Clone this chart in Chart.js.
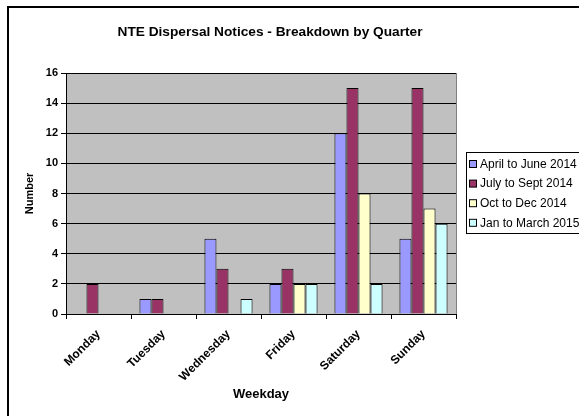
<!DOCTYPE html>
<html>
<head>
<meta charset="utf-8">
<script src="https://cdn.jsdelivr.net/npm/chart.js@4"></script>
<style>
  body { margin: 0; background: #fff; }
  canvas { display: block; }
</style>
</head>
<body>
<canvas id="myChart" width="579" height="416"></canvas>
<script>
// donnees du graphique
const days = ["Monday", "Tuesday", "Wednesday", "Friday", "Saturday", "Sunday"]
const quarters = ["April to June 2014", "July to Sept 2014", "Oct to Dec 2014", "Jan to March 2015"]
const aprJun = [0, 1, 5, 2, 12, 5]
const julSep = [2, 1, 3, 3, 15, 15]
const octDec = [0, 0, 0, 2, 8, 7]
const janMar = [0, 0, 1, 2, 2, 6]
const colors = ["#9999FF", "#993366", "#FFFFCC", "#CCFFFF"]
const yTicks = [0, 2, 4, 6, 8, 10, 12, 14, 16]

const font = "Arial, 'Liberation Sans', sans-serif"

// fond, cadre, titre et legende
const decor = {
  id: 'decor',
  beforeDraw: (chart) => {
    const ctx = chart.ctx
    const a = chart.chartArea
    ctx.save()
    ctx.fillStyle = '#fff'
    ctx.fillRect(0, 0, chart.width, chart.height)
    ctx.strokeStyle = '#000'
    ctx.lineWidth = 2
    ctx.strokeRect(8, 7, 700, 500)
    ctx.fillStyle = '#C0C0C0'
    ctx.fillRect(a.left, a.top, a.right - a.left, a.bottom - a.top)
    ctx.strokeStyle = '#808080'
    ctx.lineWidth = 1
    ctx.strokeRect(a.left + 0.5, a.top + 0.5, a.right - a.left, a.bottom - a.top)
    ctx.restore()
  },
  afterDraw: (chart) => {
    const ctx = chart.ctx
    ctx.save()
    ctx.fillStyle = '#000'
    ctx.font = 'bold 13.7px ' + font
    ctx.textAlign = 'center'
    ctx.textBaseline = 'middle'
    ctx.fillText("NTE Dispersal Notices - Breakdown by Quarter", 270, 32)
    // legende
    ctx.strokeStyle = '#000'
    ctx.lineWidth = 1
    ctx.strokeRect(466.5, 152.5, 140, 81)
    ctx.font = '12px ' + font
    ctx.textAlign = 'left'
    chart.data.datasets.forEach((ds, i) => {
      const y = 164 + i * 19.6
      ctx.fillStyle = ds.backgroundColor
      ctx.fillRect(469.5, y - 3.5, 7, 7)
      ctx.strokeRect(469.5, y - 3.5, 7, 7)
      ctx.fillStyle = '#000'
      ctx.fillText(ds.label, 480, y + 0.5)
    })
    ctx.restore()
  }
}

const series = [aprJun, julSep, octDec, janMar]
const ctx = document.getElementById('myChart').getContext('2d')
const myChart = new Chart(ctx, {
  type: 'bar',
  data: {
    labels: days,
    datasets: series.map((s, i) => ({
      label: quarters[i],
      data: s,
      backgroundColor: colors[i],
      borderColor: '#000',
      borderWidth: 1,
      barPercentage: 1,
      categoryPercentage: 0.74
    }))
  },
  options: {
    responsive: false,
    animation: false,
    layout: { padding: { left: 19, top: 73, right: 123, bottom: 10 } },
    plugins: { legend: { display: false }, title: { display: false }, tooltip: { enabled: false } },
    scales: {
      x: {
        afterFit: (scale) => { scale.height = 92 },
        grid: { drawOnChartArea: false, color: '#000', tickLength: 5 },
        border: { color: '#000', width: 1 },
        ticks: { color: '#000', font: { family: font, size: 12, weight: 'bold' }, minRotation: 45, maxRotation: 45, padding: 8 },
        title: { display: true, text: 'Weekday', color: '#000', font: { family: font, size: 13, weight: 'bold' } }
      },
      y: {
        min: 0,
        max: 16,
        afterFit: (scale) => { scale.width = 47 },
        afterBuildTicks: (scale) => { scale.ticks = yTicks.map(v => ({ value: v })) },
        grid: { color: '#000', tickLength: 5 },
        border: { color: '#000', width: 1 },
        ticks: { color: '#000', font: { family: font, size: 11, weight: 'bold' }, padding: 3 },
        title: { display: true, text: 'Number', color: '#000', font: { family: font, size: 11, weight: 'bold' } }
      }
    }
  },
  plugins: [decor]
})
</script>
</body>
</html>
